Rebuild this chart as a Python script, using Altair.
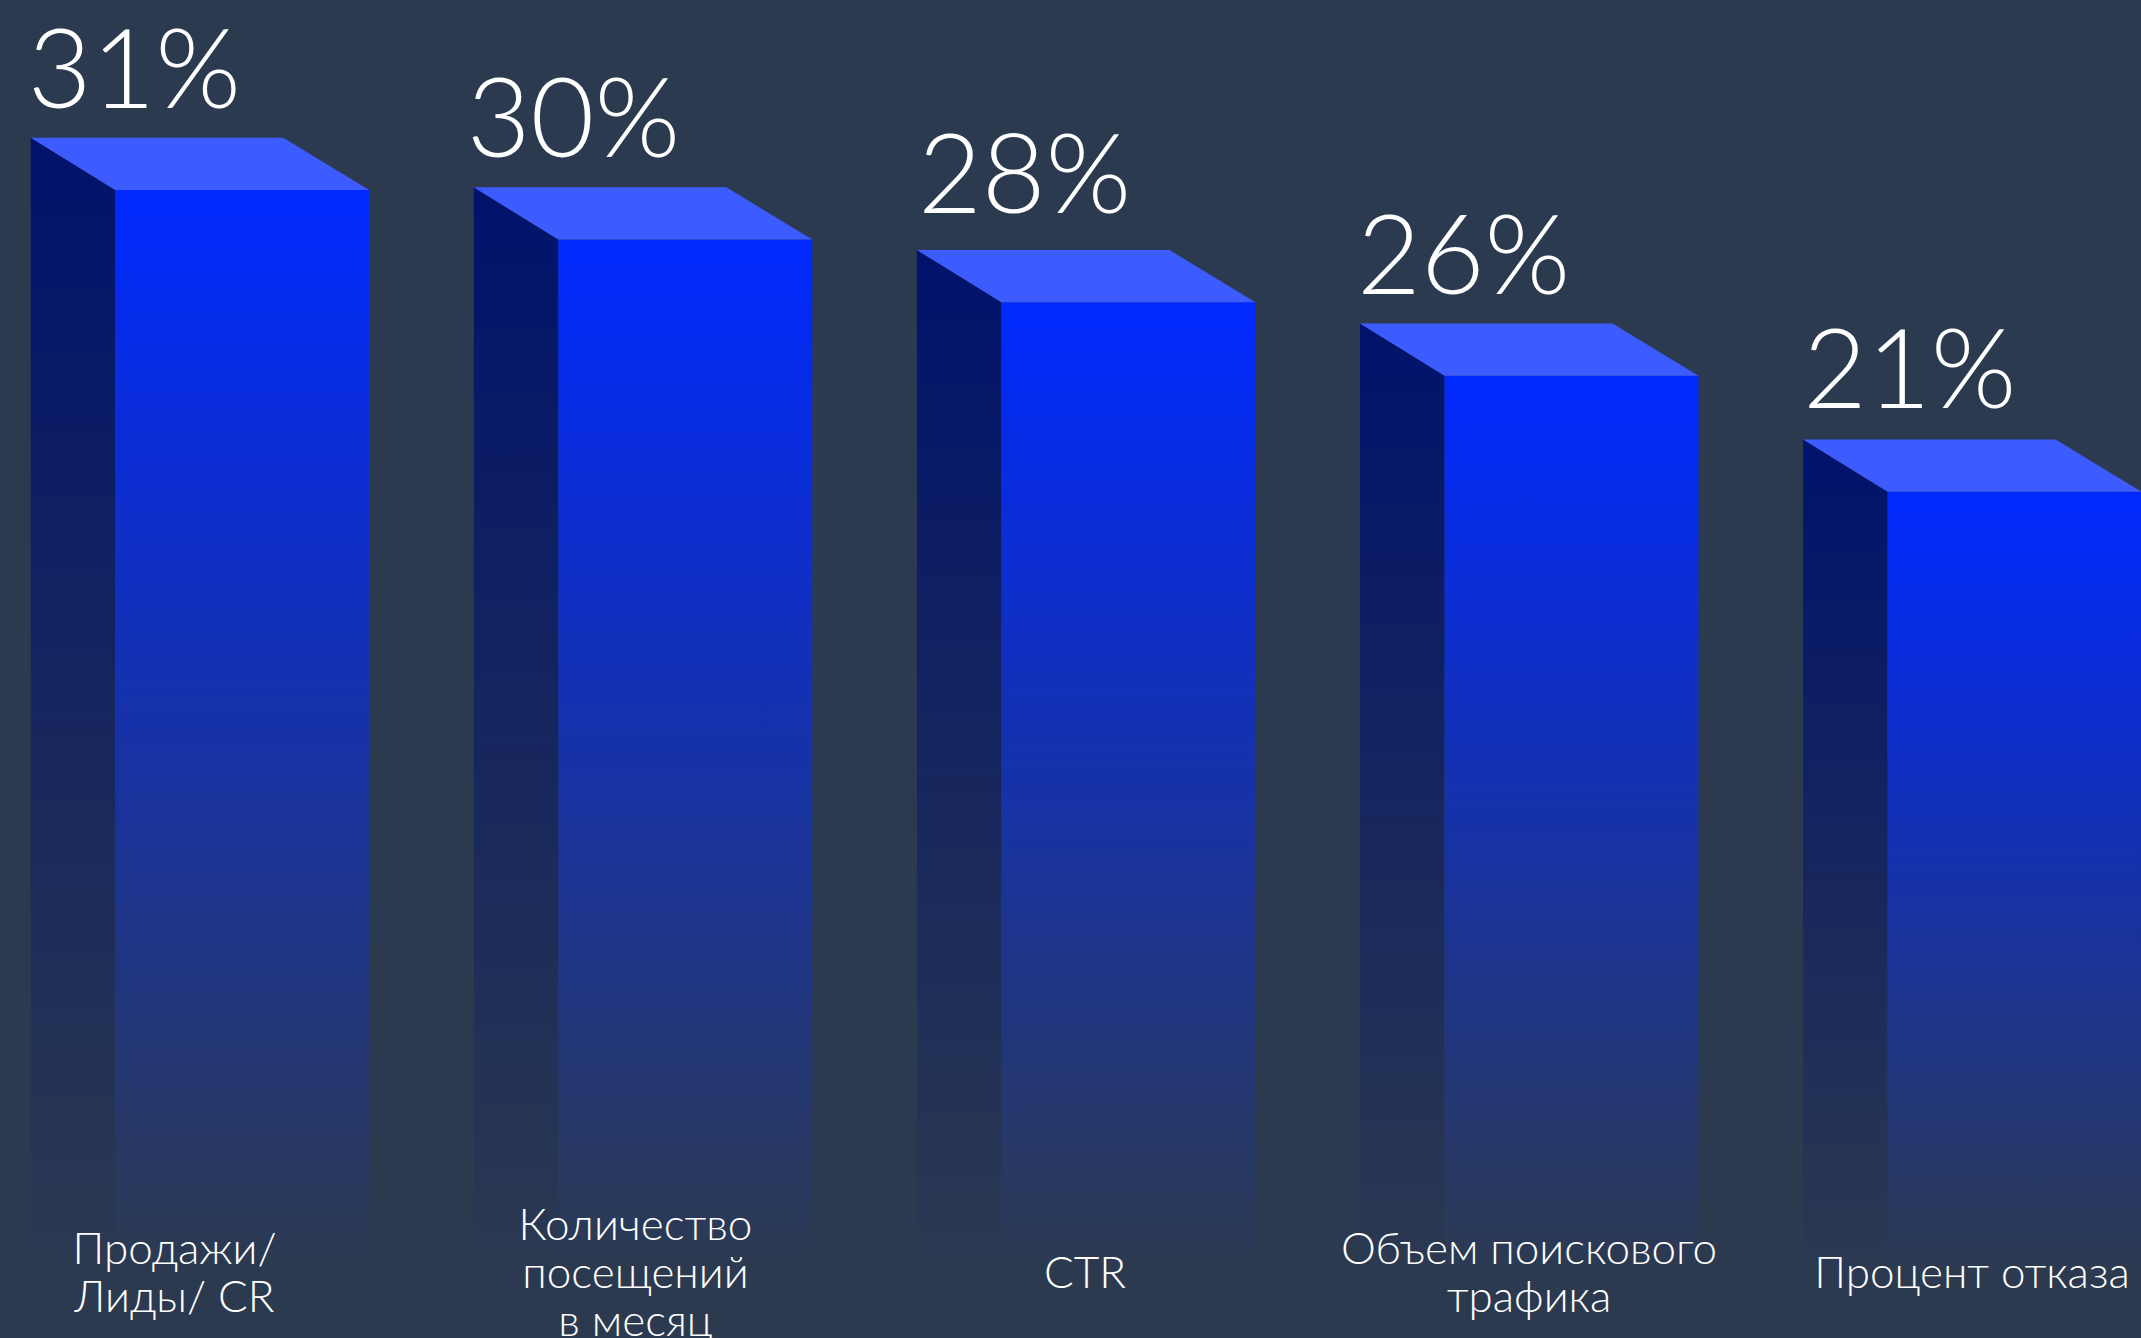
import altair as alt
import numpy as np
import pandas as pd

# Chart values
categories = ["Продажи/\nЛиды/ CR", "Количество\nпосещений\nв месяц", "CTR",
              "Объем поискового\nтрафика", "Процент отказа"]
values = [31, 30, 28, 26, 21]

# Canvas and colours
WIDTH, HEIGHT = 2141, 1338
BG = "#2c3a50"
FRONT, SIDE, TOP = "#0029ff", "#00126c", "#3d5cff"

# Box geometry: x is measured in bar slots, the y scale bends through these stops
SLOT_PX, LEFT_PX = 443.1, 30.7
SIDE_W, FRONT_W, BACK_W = 84.5 / SLOT_PX, 254 / SLOT_PX, 252.5 / SLOT_PX
DEPTH_PX = 52.3
Y_DOMAIN = [0, 21, 26, 28, 30, 31]
Y_RANGE = [1290, 439.5, 323.5, 250, 187.3, 137.7]

# Text placement
LABEL_CENTRES = [174.5, 635.5, 1085, 1529, 1972]
VALUE_NUDGE = [-6, -10, -2, -6, -3]
VALUE_LIFT = [30, 30, 37, 30, 32]
LINE_HEIGHT = 48
LABEL_MID = 1288


def front_edge(v):
    """Value whose scale position lies one box depth below v."""
    px = np.interp(v, Y_DOMAIN, Y_RANGE) + DEPTH_PX
    return float(np.interp(-px, [-p for p in Y_RANGE], Y_DOMAIN))


def fade(colour, end=1.0):
    return alt.Gradient(gradient="linear", x1=0, y1=0, x2=0, y2=1,
                        stops=[alt.GradientStop(offset=0, color=colour),
                               alt.GradientStop(offset=end, color=BG),
                               alt.GradientStop(offset=1, color=BG)])


x_scale = alt.Scale(domain=[-LEFT_PX / SLOT_PX, (WIDTH - LEFT_PX) / SLOT_PX],
                    range=[0, WIDTH], nice=False, zero=False)
y_scale = alt.Scale(domain=Y_DOMAIN, range=Y_RANGE, nice=False, zero=False)

side_rows, top_rows, front_rows, label_rows = [], [], [], []
for i, (cat, v) in enumerate(zip(categories, values)):
    f = front_edge(v)
    side_rows += [dict(bar=i, x=i, y=v, base=0), dict(bar=i, x=i + SIDE_W, y=f, base=0)]
    # The lid is a parallelogram: upper edge along the value, lower edge along the front
    top_rows += [dict(bar=i, x=i, y=v, y2=v),
                 dict(bar=i, x=i + SIDE_W, y=v, y2=f),
                 dict(bar=i, x=i + BACK_W, y=v, y2=f),
                 dict(bar=i, x=i + SIDE_W + FRONT_W, y=f, y2=f)]
    front_rows.append(dict(bar=i, x=i + SIDE_W, x2=i + SIDE_W + FRONT_W, y=f, base=0))
    lines = cat.count("\n") + 1
    label_rows.append(dict(text=cat, px=LABEL_CENTRES[i],
                           py=LABEL_MID - LINE_HEIGHT / 2 * (lines - 1),
                           pct=f"{v}%",
                           pct_x=LEFT_PX + i * SLOT_PX + 3 + VALUE_NUDGE[i],
                           pct_y=float(np.interp(v, Y_DOMAIN, Y_RANGE)) - VALUE_LIFT[i]))

X = alt.X("x:Q", scale=x_scale, axis=None)
Y = alt.Y("y:Q", scale=y_scale, axis=None)

side = alt.Chart(pd.DataFrame(side_rows)).mark_area(
    orient="vertical", fill=fade(SIDE), line=False
).encode(x=X, y=Y, y2="base:Q", detail="bar:N")

front = alt.Chart(pd.DataFrame(front_rows)).mark_rect(fill=fade(FRONT, 0.98)).encode(
    x=X, x2="x2:Q", y=Y, y2="base:Q"
)

top = alt.Chart(pd.DataFrame(top_rows)).mark_area(
    orient="vertical", fill=TOP, line=False
).encode(x=X, y=Y, y2="y2:Q", detail="bar:N")

labels = pd.DataFrame(label_rows)

pct_text = alt.Chart(labels).mark_text(
    font="Lato", fontWeight=300, fontSize=110, color="white",
    align="left", baseline="alphabetic"
).encode(
    x=alt.X("pct_x:Q", scale=None, axis=None),
    y=alt.Y("pct_y:Q", scale=None, axis=None),
    text="pct:N",
)

cat_text = alt.Chart(labels).mark_text(
    font="Lato", fontWeight=300, fontSize=44, color="white",
    align="center", baseline="alphabetic", lineBreak="\n", lineHeight=LINE_HEIGHT
).encode(
    x=alt.X("px:Q", scale=None, axis=None),
    y=alt.Y("py:Q", scale=None, axis=None),
    text="text:N",
)

chart = (
    alt.layer(side, front, top, pct_text, cat_text)
    .properties(width=WIDTH, height=HEIGHT, background=BG, padding=0,
                autosize=alt.AutoSizeParams(type="none"))
    .configure_view(stroke=None)
)

chart.save("out.html", embed_options={"renderer": "svg", "actions": False})
